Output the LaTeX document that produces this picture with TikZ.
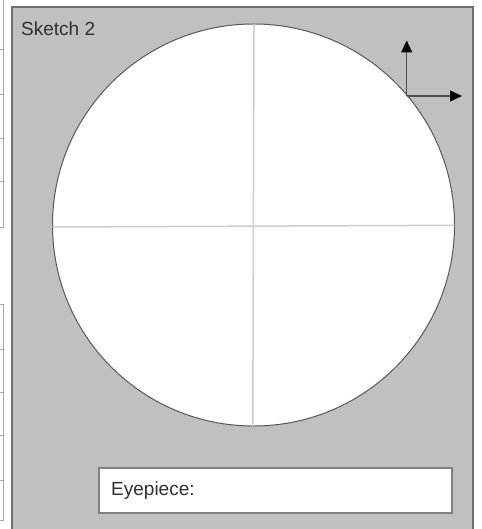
\documentclass[tikz,border=0pt]{standalone}
\usepackage{fontspec}
\setmainfont{Liberation Sans}
\usetikzlibrary{arrows.meta}
\definecolor{panelfill}{HTML}{C0C0C0}
\definecolor{panelline}{HTML}{6E6E6E}
\definecolor{sideline}{HTML}{A8A8A8}
\definecolor{crossline}{HTML}{CCCCCC}
\definecolor{textcol}{HTML}{303030}
\tikzset{
  sidebox/.style={draw=sideline, line width=1pt, fill=white},
  panel/.style={draw=panelline, line width=1.5pt, fill=panelfill},
  dial/.style={draw=panelline!80!black, line width=1pt, fill=white},
  cross/.style={draw=crossline, line width=1.5pt},
  axis/.style={draw=black!70, line width=1.3pt, -{Triangle[length=12pt,width=11pt,color=black,fill=black]}},
  eyebox/.style={draw=black!50, line width=1.5pt, fill=white},
  label/.style={font=\fontsize{19}{22}\selectfont, text=textcol, inner sep=0pt, anchor=west}
}
\begin{document}
\begin{tikzpicture}[x=1pt,y=-1pt]
\useasboundingbox (0,0) rectangle (481,529);
% left partial boxes
\foreach \a/\b in {-5/50,50/95,95/139,139/182,182/227,304/349,349/392,392/435,435/480,480/520}
  \draw[sidebox] (-10,\a) rectangle (3,\b);
% panel
\draw[panel] (12,7) rectangle (473,540);
\node[label] (title) at (21,28.5) {Sketch 2};
% dial
\node[dial, circle, minimum size=402pt, inner sep=0pt] (dial) at (253.5,225) {};
\coordinate (vt) at (254,24);
\coordinate (vb) at (252.8,426);
\coordinate (hl) at (52.5,227);
\coordinate (hr) at (454.5,225.3);
\draw[cross] (vt) -- (vb);
\draw[cross] (hl) -- (hr);
% axes
\coordinate (o) at (406.7,96);
\coordinate (up) at (406.7,40.5);
\coordinate (rt) at (462,96);
\draw[axis] (o) -- (up);
\draw[axis] (o) -- (rt);
% eyepiece
\node[eyebox, minimum width=353pt, minimum height=45pt, inner sep=0pt] (eye) at (275.5,490.5) {};
\node[label] (eyetext) at (111,491) {Eyepiece:};
\end{tikzpicture}
\end{document}
